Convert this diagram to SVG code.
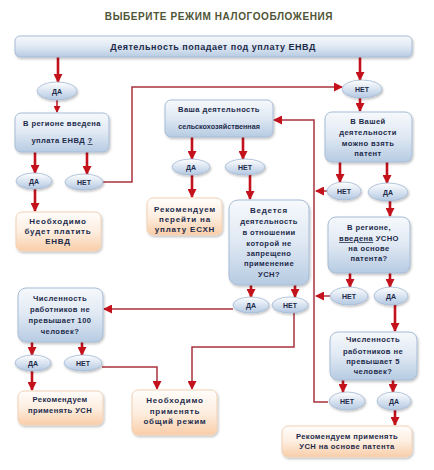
<svg xmlns="http://www.w3.org/2000/svg" width="434" height="470" viewBox="0 0 434 470">
<defs>
<linearGradient id="gb" x1="0" y1="0" x2="0" y2="1"><stop offset="0" stop-color="#f6f9fc"/><stop offset="0.5" stop-color="#dfe8f3"/><stop offset="1" stop-color="#b6cbe2"/></linearGradient>
<linearGradient id="go" x1="0" y1="0" x2="0" y2="1"><stop offset="0" stop-color="#fffdfb"/><stop offset="0.5" stop-color="#fdeee0"/><stop offset="1" stop-color="#f9cda8"/></linearGradient>
<linearGradient id="ge" x1="0" y1="0" x2="0" y2="1"><stop offset="0" stop-color="#ffffff"/><stop offset="1" stop-color="#b3c8e2"/></linearGradient>
<filter id="sh" x="-10%" y="-10%" width="130%" height="140%"><feDropShadow dx="1" dy="1.5" stdDeviation="1" flood-color="#000" flood-opacity="0.25"/></filter>
<marker id="ah" markerUnits="userSpaceOnUse" markerWidth="9" markerHeight="9" refX="8" refY="4.5" orient="auto"><path d="M0,0 L9,4.5 L0,9 z" fill="#c3121c"/></marker>
<marker id="ahs" markerUnits="userSpaceOnUse" markerWidth="7" markerHeight="7" refX="6" refY="3.5" orient="auto"><path d="M0,0 L7,3.5 L0,7 z" fill="#c3121c"/></marker>
<style>
.bb{fill:url(#gb);stroke:#a7bcd6;stroke-width:1;filter:url(#sh)}
.ob{fill:url(#go);stroke:#f0d2b8;stroke-width:1;filter:url(#sh)}
.el{fill:url(#ge);stroke:#a3b9d4;stroke-width:0.8;filter:url(#sh)}
text{font-family:"Liberation Sans",Arial,sans-serif;font-weight:bold;fill:#1d2b4b;text-anchor:middle}
.t{font-size:7.6px;letter-spacing:0.4px}
.to{font-size:8px;letter-spacing:0.8px}
.te{font-size:7px}
.a{fill:none;stroke:#c3121c;stroke-width:2.6;marker-end:url(#ah)}
.as{fill:none;stroke:#c3121c;stroke-width:1.5;marker-end:url(#ahs)}
.l{fill:none;stroke:#a8323c;stroke-width:1.5}
.la{fill:none;stroke:#a8323c;stroke-width:1.5;marker-end:url(#ah)}
</style>
</defs>
<rect width="434" height="470" fill="#ffffff"/>
<text x="219" y="20" style="font-size:10px;letter-spacing:0.6px;fill:#4f5536">ВЫБЕРИТЕ  РЕЖИМ НАЛОГООБЛОЖЕНИЯ</text>

<g id="connectors">
<path class="a" d="M58,57 V82"/>
<path class="a" d="M360,57 V80"/>
<path class="as" d="M57,100 V112"/>
<path class="a" d="M35,152 V173"/>
<path class="a" d="M87,152 V174"/>
<path class="la" d="M103,182 H132 V87 H342"/>
<path class="a" d="M35,189 V211"/>
<path class="a" d="M360,98 V111"/>
<path class="a" d="M340,162 V182"/>
<path class="a" d="M387,162 V183"/>
<path class="la" d="M327,191 H316"/>
<path class="la" d="M328,402 H314 V120 H274"/>
<path class="a" d="M390,201 V216"/>
<path class="a" d="M350,273 V287"/>
<path class="a" d="M390,273 V287"/>
<path class="la" d="M330,296 H316"/>
<path class="a" d="M395,305 V331"/>
<path class="a" d="M343,380 V392"/>
<path class="a" d="M393,380 V392"/>
<path class="a" d="M395,410 V425"/>
<path class="a" d="M192,137 V159"/>
<path class="a" d="M243,137 V159"/>
<path class="a" d="M192,175 V197"/>
<path class="a" d="M250,175 V199"/>
<path class="a" d="M251,285 V297"/>
<path class="a" d="M295,285 V297"/>
<path class="la" d="M233,309 H104"/>
<path class="la" d="M294,313 V347 H192 V389"/>
<path class="a" d="M32,342 V355"/>
<path class="a" d="M82,342 V355"/>
<path class="a" d="M32,371 V390"/>
<path class="la" d="M102,367 H157 V389"/>
</g>

<g id="n_envd_bar"><rect class="bb" x="15" y="36" width="397" height="21" rx="5"/><text x="213" y="50" style="font-size:9px;letter-spacing:0.5px">Деятельность попадает под уплату ЕНВД</text></g>
<g id="n_da1"><ellipse class="el" cx="57" cy="91" rx="20" ry="9"/><text class="te" x="57" y="93.5">ДА</text></g>
<g id="n_net1"><ellipse class="el" cx="362" cy="89" rx="20" ry="9"/><text class="te" x="362" y="91.5">НЕТ</text></g>
<g id="n_region_envd"><rect class="bb" x="15" y="113" width="94" height="39" rx="6"/><text class="t" x="62" y="126">В регионе введена</text><text class="t" x="62" y="143">уплата ЕНВД <tspan text-decoration="underline">?</tspan></text></g>
<g id="n_da2"><ellipse class="el" cx="34" cy="181" rx="18" ry="8"/><text class="te" x="34" y="183.5">ДА</text></g>
<g id="n_net2"><ellipse class="el" cx="84" cy="182" rx="19" ry="8"/><text class="te" x="84" y="184.5">НЕТ</text></g>
<g id="n_pay_envd"><rect class="ob" x="16" y="212" width="85" height="39" rx="6"/><text class="to" x="58" y="224">Необходимо</text><text class="to" x="58" y="234">будет платить</text><text class="to" x="58" y="244">ЕНВД</text></g>
<g id="n_agri"><rect class="bb" x="165" y="100" width="108" height="37" rx="6"/><text class="t" x="219" y="112">Ваша деятельность</text><text x="219" y="129" style="font-size:7.2px">сельскохозяйственная</text></g>
<g id="n_da3"><ellipse class="el" cx="191" cy="167" rx="19" ry="8"/><text class="te" x="191" y="169.5">ДА</text></g>
<g id="n_net3"><ellipse class="el" cx="245" cy="167" rx="20" ry="8"/><text class="te" x="245" y="169.5">НЕТ</text></g>
<g id="n_esxn"><rect class="ob" x="147" y="198" width="75" height="37" rx="6"/><text class="to" x="185" y="212">Рекомендуем</text><text class="to" x="185" y="222">перейти на</text><text class="to" x="185" y="232">уплату ЕСХН</text></g>
<g id="n_usn_allowed"><rect class="bb" x="229" y="200" width="80" height="85" rx="9"/><text class="to" x="269" y="213">Ведется</text><text class="t" x="269" y="224">деятельность</text><text class="t" x="269" y="235">в отношении</text><text class="t" x="269" y="246">которой не</text><text class="t" x="269" y="256">запрещено</text><text class="t" x="269" y="266">применение</text><text class="t" x="269" y="277">УСН?</text></g>
<g id="n_da4"><ellipse class="el" cx="251" cy="305" rx="18" ry="8"/><text class="te" x="251" y="307.5">ДА</text></g>
<g id="n_net4"><ellipse class="el" cx="290" cy="305" rx="18" ry="8"/><text class="te" x="290" y="307.5">НЕТ</text></g>
<g id="n_patent"><rect class="bb" x="325" y="112" width="87" height="50" rx="7"/><text class="t" x="368" y="124">В Вашей</text><text class="t" x="368" y="135">деятельности</text><text class="t" x="368" y="146">можно взять</text><text class="t" x="368" y="156">патент</text></g>
<g id="n_net5"><ellipse class="el" cx="344" cy="191" rx="17" ry="9"/><text class="te" x="344" y="193.5">НЕТ</text></g>
<g id="n_da5"><ellipse class="el" cx="388" cy="192" rx="20" ry="9"/><text class="te" x="388" y="194.5">ДА</text></g>
<g id="n_usno"><rect class="bb" x="328" y="217" width="82" height="56" rx="8"/><text class="t" x="369" y="230">В регионе,</text><text class="t" x="369" y="241"><tspan text-decoration="underline">введена</tspan> УСНО</text><text class="t" x="369" y="251">на основе</text><text class="t" x="369" y="261">патента?</text></g>
<g id="n_net6"><ellipse class="el" cx="349" cy="296" rx="19" ry="9"/><text class="te" x="349" y="298.5">НЕТ</text></g>
<g id="n_da6"><ellipse class="el" cx="391" cy="296" rx="17" ry="9"/><text class="te" x="391" y="298.5">ДА</text></g>
<g id="n_staff5"><rect class="bb" x="330" y="332" width="87" height="48" rx="8"/><text class="t" x="373" y="342">Численность</text><text class="t" x="373" y="354">работников не</text><text class="t" x="373" y="364">превышает 5</text><text class="t" x="373" y="374">человек?</text></g>
<g id="n_net7"><ellipse class="el" cx="347" cy="401" rx="18" ry="9"/><text class="te" x="347" y="403.5">НЕТ</text></g>
<g id="n_da7"><ellipse class="el" cx="394" cy="401" rx="17" ry="9"/><text class="te" x="394" y="403.5">ДА</text></g>
<g id="n_usn_patent"><rect class="ob" x="282" y="426" width="130" height="31" rx="6"/><text class="t" x="347" y="439">Рекомендуем применять</text><text class="t" x="347" y="449">УСН на основе патента</text></g>
<g id="n_staff100"><rect class="bb" x="18" y="288" width="85" height="54" rx="8"/><text class="t" x="60" y="301">Численность</text><text class="t" x="60" y="312">работников не</text><text class="t" x="60" y="323">превышает 100</text><text class="t" x="60" y="334">человек?</text></g>
<g id="n_da8"><ellipse class="el" cx="33" cy="363" rx="18" ry="8"/><text class="te" x="33" y="365.5">ДА</text></g>
<g id="n_net8"><ellipse class="el" cx="83" cy="363" rx="19" ry="8"/><text class="te" x="83" y="365.5">НЕТ</text></g>
<g id="n_usn"><rect class="ob" x="18" y="391" width="85" height="34" rx="6"/><text class="t" x="60" y="402">Рекомендуем</text><text class="t" x="60" y="413">применять УСН</text></g>
<g id="n_general"><rect class="ob" x="132" y="390" width="85" height="45" rx="6"/><text class="to" x="175" y="403">Необходимо</text><text class="to" x="175" y="414">применять</text><text class="to" x="175" y="424">общий режим</text></g>
</svg>
